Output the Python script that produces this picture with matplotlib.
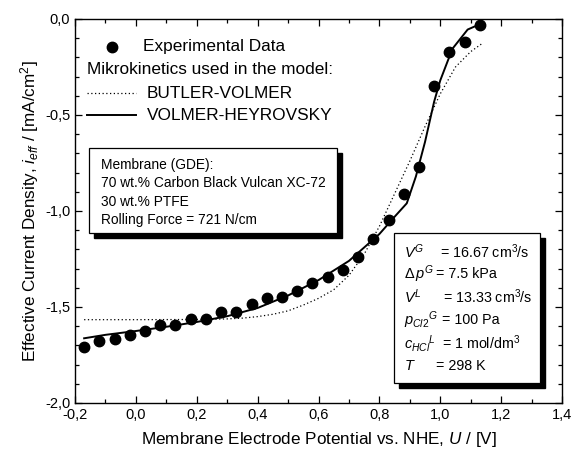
import numpy as np
import matplotlib
matplotlib.use("Agg")
import matplotlib.pyplot as plt
from matplotlib.patches import Rectangle
from matplotlib.ticker import MultipleLocator, FuncFormatter

plt.rcParams['font.family'] = ['Liberation Sans', 'DejaVu Sans']
plt.rcParams['mathtext.fontset'] = 'custom'
plt.rcParams['mathtext.rm'] = 'Liberation Sans'
plt.rcParams['mathtext.it'] = 'Liberation Sans:italic'

# experimental data
u_exp = [-0.17, -0.12, -0.07, -0.02, 0.03, 0.08, 0.13, 0.18, 0.23, 0.28, 0.33,
         0.38, 0.43, 0.48, 0.53, 0.58, 0.63, 0.68, 0.73, 0.78, 0.83, 0.88,
         0.93, 0.98, 1.03, 1.08, 1.13]
i_exp = [-1.707, -1.675, -1.667, -1.646, -1.625, -1.595, -1.595, -1.564, -1.564,
         -1.526, -1.526, -1.484, -1.455, -1.446, -1.415, -1.376, -1.345, -1.307,
         -1.238, -1.147, -1.047, -0.911, -0.772, -0.349, -0.170, -0.121, -0.031]

# Volmer-Heyrovsky model (solid)
u_vh = [-0.17, -0.1, 0.0, 0.1, 0.2, 0.3, 0.4, 0.5, 0.6, 0.7, 0.75, 0.8, 0.85,
        0.89, 0.92, 0.95, 0.98, 1.0, 1.04, 1.09, 1.14]
i_vh = [-1.663, -1.645, -1.625, -1.603, -1.578, -1.548, -1.505, -1.44, -1.36,
        -1.26, -1.19, -1.12, -1.03, -0.96, -0.82, -0.64, -0.43, -0.32, -0.155,
        -0.055, -0.02]

# Butler-Volmer model (dotted)
u_bv = [-0.17, 0.0, 0.2, 0.3, 0.35, 0.4, 0.45, 0.5, 0.55, 0.6, 0.65, 0.7, 0.75,
        0.8, 0.85, 0.9, 0.95, 1.0, 1.05, 1.1, 1.14]
i_bv = [-1.566, -1.566, -1.565, -1.562, -1.558, -1.55, -1.538, -1.52, -1.49,
        -1.455, -1.41, -1.335, -1.225, -1.08, -0.91, -0.74, -0.56, -0.39, -0.25,
        -0.17, -0.125]

W, H = 573, 451
fig = plt.figure(figsize=(W / 100, H / 100), dpi=100)
L, R, T, B = 75, 562, 19, 403
ax = fig.add_axes([L / W, (H - B) / H, (R - L) / W, (B - T) / H])


def axpos(px, py):
    return (px - L) / (R - L), (B - py) / (B - T)


ax.plot(u_bv, i_bv, color='black', lw=0.9, ls=(0, (1, 2)))
ax.plot(u_vh, i_vh, color='black', lw=1.4)
ax.plot(u_exp, i_exp, 'o', color='black', ms=7.5)

ax.set_xlim(-0.2, 1.4)
ax.set_ylim(-2.0, 0.0)
ax.xaxis.set_major_locator(MultipleLocator(0.2))
ax.xaxis.set_minor_locator(MultipleLocator(0.1))
ax.yaxis.set_major_locator(MultipleLocator(0.5))
ax.yaxis.set_minor_locator(MultipleLocator(0.1))
fmt = FuncFormatter(lambda v, p: ('%.1f' % v).replace('.', ',').replace('-0,0', '0,0'))
ax.xaxis.set_major_formatter(fmt)
ax.yaxis.set_major_formatter(fmt)
ax.tick_params(which='both', direction='in', top=True, right=True, labelsize=10.5, width=0.9)
ax.tick_params(which='major', length=5)
ax.tick_params(which='minor', length=3)
for s in ax.spines.values():
    s.set_linewidth(1.0)

ax.set_xlabel('Membrane Electrode Potential vs. NHE, $U$ / [V]', fontsize=12.3, labelpad=6)
ax.set_ylabel('Effective Current Density, $i_{eff}$ / [mA/cm$^2$]', fontsize=12.3, labelpad=3)

# legend drawn by hand
x, y = axpos(112, 47)
ax.plot([x], [y], 'o', color='black', ms=7.5, transform=ax.transAxes, clip_on=False)
ax.text(*axpos(143, 47), 'Experimental Data', transform=ax.transAxes, fontsize=12.4, va='center')
ax.text(*axpos(87, 70), 'Mikrokinetics used in the model:', transform=ax.transAxes, fontsize=12.4, va='center')
x0, y0 = axpos(87, 93)
x1, _ = axpos(136, 93)
ax.plot([x0, x1], [y0, y0], color='black', lw=0.9, ls=(0, (1, 2)), transform=ax.transAxes)
ax.text(*axpos(147, 93), 'BUTLER-VOLMER', transform=ax.transAxes, fontsize=12.4, va='center')
x0, y0 = axpos(87, 115)
ax.plot([x0, x1], [y0, y0], color='black', lw=1.4, transform=ax.transAxes)
ax.text(*axpos(147, 115), 'VOLMER-HEYROVSKY', transform=ax.transAxes, fontsize=12.4, va='center')


def shadow_box(left, top, right, bottom, off=5):
    xa, ya = axpos(left, bottom)
    xb, yb = axpos(right, top)
    dx = off / (R - L)
    dy = off / (B - T)
    ax.add_patch(Rectangle((xa + dx, ya - dy), xb - xa, yb - ya, transform=ax.transAxes,
                           facecolor='black', edgecolor='black', zorder=5, clip_on=False))
    ax.add_patch(Rectangle((xa, ya), xb - xa, yb - ya, transform=ax.transAxes,
                           facecolor='white', edgecolor='black', lw=0.9, zorder=6, clip_on=False))


shadow_box(89, 148, 337, 233)
box1 = ['Membrane (GDE):', '70 wt.% Carbon Black Vulcan XC-72', '30 wt.% PTFE',
        'Rolling Force = 721 N/cm']
for txt, py in zip(box1, [165, 183, 202, 220]):
    ax.text(*axpos(101, py), txt, transform=ax.transAxes, fontsize=9.9, va='center', zorder=7)

shadow_box(394, 233, 540, 383)
box2_sym = ['$V^G$', r'$\Delta\, p^G$', '$V^L$', '$p_{Cl2}{}^G$', '$c_{HCl}{}^L$', '$T$']
box2_val = ['= 16.67 cm$^3$/s', '= 7.5 kPa', '= 13.33 cm$^3$/s', '= 100 Pa',
            '= 1 mol/dm$^3$', '= 298 K']
box2_x = [440, 436, 443, 442, 442, 436]
for sym, val, vx, py in zip(box2_sym, box2_val, box2_x, [252, 274, 297, 320, 343, 366]):
    ax.text(*axpos(404, py), sym, transform=ax.transAxes, fontsize=10.5, va='center', zorder=7)
    ax.text(*axpos(vx, py), val, transform=ax.transAxes, fontsize=10.3, va='center', zorder=7)

fig.savefig('out.png', dpi=100)
